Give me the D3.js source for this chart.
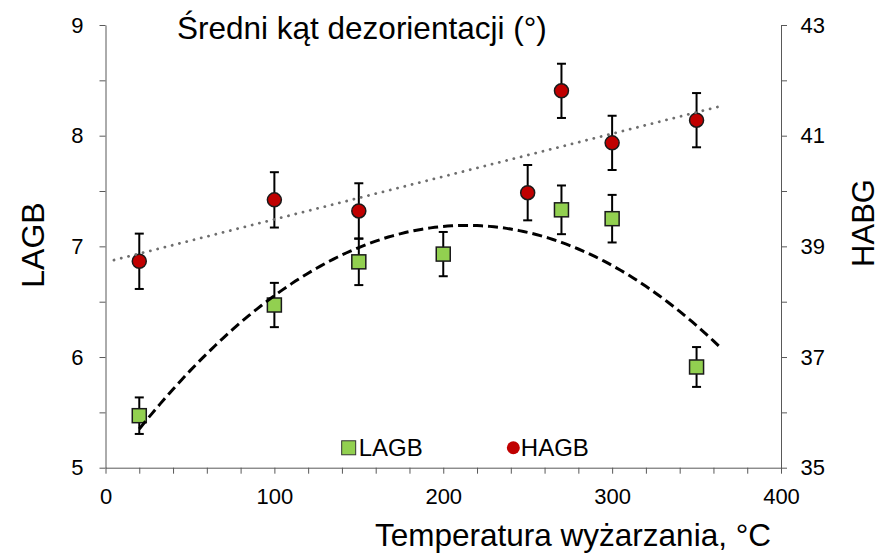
<!DOCTYPE html>
<html>
<head>
<meta charset="utf-8">
<script src="https://d3js.org/d3.v7.min.js"></script>
<style>
  body { margin: 0; background: #fff; }
  svg { font-family: "Liberation Sans", Arial, sans-serif; display: block; }
  .axis path, .axis line { stroke: #595959; stroke-width: 1; }
  .axis text { fill: #000; font-size: 22px; }
</style>
</head>
<body>
<div id="chart"></div>
<script>
// LAGB series (left axis)
var lagbTemps = [20, 100, 150, 200, 270, 300, 350];
var lagbValues = [5.47, 6.47, 6.86, 6.93, 7.33, 7.25, 5.91];
var lagbErrors = [0.165, 0.2, 0.21, 0.2, 0.22, 0.215, 0.18];

// HAGB series (right axis)
var hagbTemps = [20, 100, 150, 250, 270, 300, 350];
var hagbValues = [38.73, 39.84, 39.64, 39.97, 41.81, 40.87, 41.28];
var hagbErrors = [0.5, 0.5, 0.5, 0.5, 0.49, 0.49, 0.49];

// axis ticks
var xTicks = [0, 100, 200, 300, 400];
var leftTicks = [5, 6, 7, 8, 9];
var rightTicks = [35, 37, 39, 41, 43];

// trendline spans (temperature)
var linSpan = [5, 365];
var polySpan = [20, 365];

// least squares polynomial fit, returns function of x
function polyfit(xs, ys, order) {
    var n = order + 1;
    var A = [], b = [];
    for (var i = 0; i < n; i++) {
        A.push([]);
        b.push(d3.sum(xs, function(x, k) { return Math.pow(x, i) * ys[k]; }));
        for (var j = 0; j < n; j++) {
            A[i].push(d3.sum(xs, function(x) { return Math.pow(x, i + j); }));
        }
    }
    // gaussian elimination
    for (var c = 0; c < n; c++) {
        for (var r = c + 1; r < n; r++) {
            var f = A[r][c] / A[c][c];
            for (var q = c; q < n; q++) A[r][q] -= f * A[c][q];
            b[r] -= f * b[c];
        }
    }
    var coef = new Array(n);
    for (var r2 = n - 1; r2 >= 0; r2--) {
        var s = b[r2];
        for (var q2 = r2 + 1; q2 < n; q2++) s -= A[r2][q2] * coef[q2];
        coef[r2] = s / A[r2][r2];
    }
    return function(x) {
        return d3.sum(coef, function(cf, p) { return cf * Math.pow(x, p); });
    };
}

var width = 881, height = 553;
var m = { top: 25, left: 105.5, right: 100, bottom: 85.3 };
var w = width - m.left - m.right;
var h = height - m.top - m.bottom;

var svg = d3.select('#chart').append('svg')
    .attr('width', width)
    .attr('height', height);

var chart = svg.append('g')
    .attr('transform', 'translate(' + m.left + ',' + m.top + ')');

var x = d3.scaleLinear().domain([0, 400]).range([0, w]);
var yL = d3.scaleLinear().domain([5, 9]).range([h, 0]);
var yR = d3.scaleLinear().domain([35, 43]).range([h, 0]);

// axes
chart.append('g')
    .attr('class', 'axis')
    .attr('transform', 'translate(0,' + h + ')')
    .call(d3.axisBottom(x)
        .tickValues(d3.range(0, 401, 20))
        .tickFormat(function(d) { return xTicks.indexOf(d) >= 0 ? d : ''; })
        .tickSize(6).tickSizeOuter(0).tickPadding(14.7));

chart.append('g')
    .attr('class', 'axis')
    .call(d3.axisLeft(yL)
        .tickValues(d3.range(5, 9.01, 0.5))
        .tickFormat(function(d) { return leftTicks.indexOf(d) >= 0 ? d : ''; })
        .tickSize(6).tickSizeOuter(0).tickPadding(16));

chart.append('g')
    .attr('class', 'axis')
    .attr('transform', 'translate(' + w + ',0)')
    .call(d3.axisRight(yR)
        .tickValues(d3.range(35, 43.01, 1))
        .tickFormat(function(d) { return rightTicks.indexOf(d) >= 0 ? d : ''; })
        .tickSize(6).tickSizeOuter(0).tickPadding(13.5));

// error bars
var cap = 4.5;
function drawErrors(temps, values, errors, yScale) {
    var g = chart.append('g')
        .attr('stroke', '#000')
        .attr('stroke-width', 2)
        .attr('fill', 'none');
    var items = g.selectAll('g').data(temps).enter().append('g');
    items.append('line')
        .attr('x1', function(d) { return x(d); })
        .attr('x2', function(d) { return x(d); })
        .attr('y1', function(d, i) { return yScale(values[i] + errors[i]); })
        .attr('y2', function(d, i) { return yScale(values[i] - errors[i]); });
    [1, -1].forEach(function(sgn) {
        items.append('line')
            .attr('x1', function(d) { return x(d) - cap; })
            .attr('x2', function(d) { return x(d) + cap; })
            .attr('y1', function(d, i) { return yScale(values[i] + sgn * errors[i]); })
            .attr('y2', function(d, i) { return yScale(values[i] + sgn * errors[i]); });
    });
}
drawErrors(lagbTemps, lagbValues, lagbErrors, yL);
drawErrors(hagbTemps, hagbValues, hagbErrors, yR);

// markers
chart.append('g').selectAll('rect')
    .data(lagbTemps)
    .enter()
    .append('rect')
    .attr('x', function(d) { return x(d) - 7; })
    .attr('y', function(d, i) { return yL(lagbValues[i]) - 7; })
    .attr('width', 14)
    .attr('height', 14)
    .attr('fill', '#92d050')
    .attr('stroke', '#1a1a1a')
    .attr('stroke-width', 1.5);

chart.append('g').selectAll('circle')
    .data(hagbTemps)
    .enter()
    .append('circle')
    .attr('cx', function(d) { return x(d); })
    .attr('cy', function(d, i) { return yR(hagbValues[i]); })
    .attr('r', 7)
    .attr('fill', '#c00000')
    .attr('stroke', '#1a1a1a')
    .attr('stroke-width', 1.5);

// trendlines
var linFit = polyfit(hagbTemps, hagbValues, 1);
var polyFit = polyfit(lagbTemps, lagbValues, 2);

chart.append('path')
    .datum(d3.range(linSpan[0], linSpan[1] + 0.1, 5))
    .attr('d', d3.line()
        .x(function(d) { return x(d); })
        .y(function(d) { return yR(linFit(d)); }))
    .attr('fill', 'none')
    .attr('stroke', '#6e6e6e')
    .attr('stroke-width', 2.8)
    .attr('stroke-linecap', 'round')
    .attr('stroke-dasharray', '0.1,7.4');

chart.append('path')
    .datum(d3.range(polySpan[0], polySpan[1] + 0.1, 2.5))
    .attr('d', d3.line()
        .x(function(d) { return x(d); })
        .y(function(d) { return yL(polyFit(d)); }))
    .attr('fill', 'none')
    .attr('stroke', '#000')
    .attr('stroke-width', 3)
    .attr('stroke-dasharray', '10,5');

// legend
var legend = chart.append('g').attr('font-size', '24px');
legend.append('rect')
    .attr('x', x(144) - 7).attr('y', yL(5.18) - 7)
    .attr('width', 14).attr('height', 14)
    .attr('fill', '#92d050').attr('stroke', '#333').attr('stroke-width', 1);
legend.append('text')
    .attr('x', x(144) + 10).attr('y', yL(5.18))
    .attr('dy', '.35em')
    .text('LAGB');
legend.append('circle')
    .attr('cx', x(241.5)).attr('cy', yL(5.18))
    .attr('r', 6.5)
    .attr('fill', '#c00000');
legend.append('text')
    .attr('x', x(241.5) + 7.5).attr('y', yL(5.18))
    .attr('dy', '.35em')
    .text('HAGB');

// titles
svg.append('text')
    .attr('x', 177).attr('y', 39)
    .attr('font-size', '31.5px')
    .text('Średni kąt dezorientacji (°)');

svg.append('text')
    .attr('x', 375).attr('y', 546)
    .attr('font-size', '31.5px')
    .text('Temperatura wyżarzania, °C');

svg.append('text')
    .attr('transform', 'translate(43.5,245) rotate(-90)')
    .attr('text-anchor', 'middle')
    .attr('font-size', '32px')
    .text('LAGB');

svg.append('text')
    .attr('transform', 'translate(873.5,223) rotate(-90)')
    .attr('text-anchor', 'middle')
    .attr('font-size', '31px')
    .text('HABG');
</script>
</body>
</html>
